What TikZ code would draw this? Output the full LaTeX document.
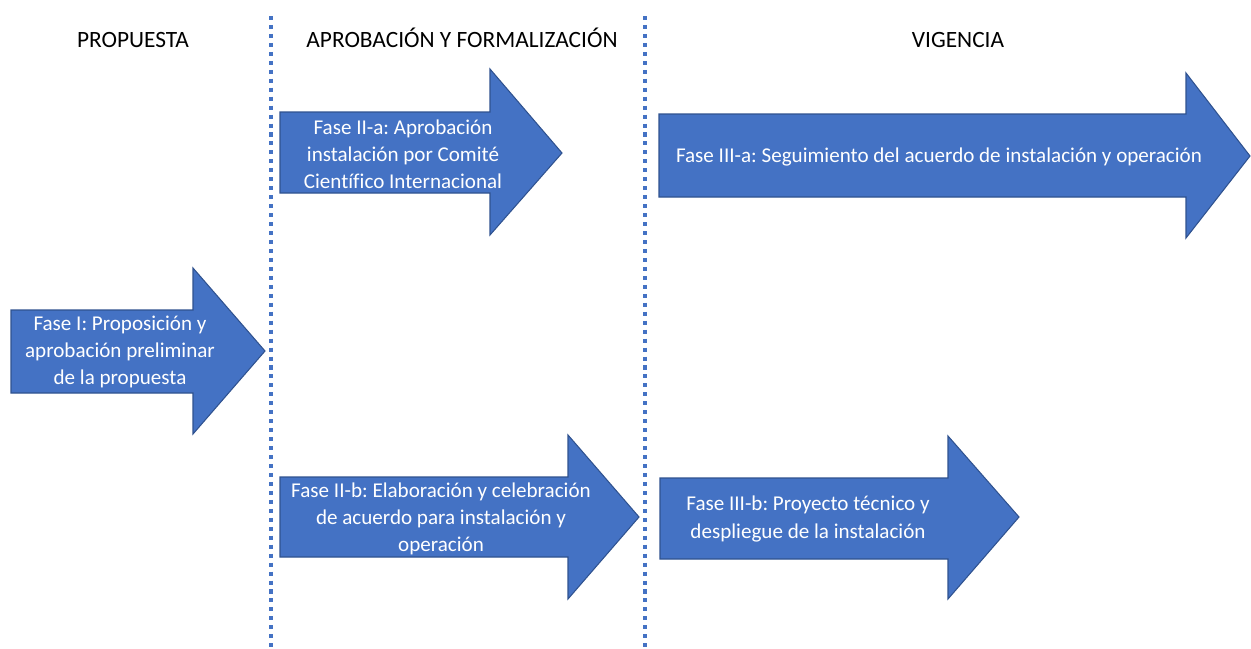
\documentclass[tikz,border=0pt]{standalone}
\usepackage{fontspec}
\setmainfont{Carlito}[Ligatures=NoCommon]
\frenchspacing
\definecolor{phaseblue}{HTML}{4472C4}
\definecolor{phaseedge}{HTML}{2F528F}
\tikzset{
    phase/.style={fill=phaseblue,draw=phaseedge,line width=0.6pt,line join=miter},
    phasetext/.style={text=white,align=center,font=\fontsize{12}{15.5}\selectfont,inner sep=0pt},
    stagetext/.style={font=\fontsize{13.3}{16}\selectfont,inner sep=0pt},
    divider/.style={draw=phaseblue,line width=2.3pt,dash pattern=on 2.3pt off 2.8pt}
}
\begin{document}
\begin{tikzpicture}[x=0.02cm,y=-0.02cm]
        \useasboundingbox (0,0) rectangle (1251,649);
        % The stage titles
        \node[stagetext] (propuesta) at (133,40) {PROPUESTA};
        \node[stagetext] (aprobacion) at (462,38) {APROBACIÓN Y FORMALIZACIÓN};
        \node[stagetext] (vigencia) at (958,40) {VIGENCIA};
        % The dividers
        \coordinate (div1 top) at (271,16);
        \coordinate (div1 bot) at (271,649);
        \coordinate (div2 top) at (645,16);
        \coordinate (div2 bot) at (645,649);
        \draw [divider] (div1 top) -- (div1 bot);
        \draw [divider] (div2 top) -- (div2 bot);
        % Fase I
        \draw [phase] (11,310) -- (193,310) -- (193,268) -- (265,351)
            -- (193,434) -- (193,393) -- (11,393) -- cycle;
        \node[phasetext] (fase1) at (120,352)
            {Fase I: Proposición y\\aprobación preliminar\\de la propuesta};
        % Fase II-a
        \draw [phase] (280,112) -- (490,112) -- (490,69) -- (562,153)
            -- (490,235) -- (490,193) -- (280,193) -- cycle;
        \node[phasetext] (fase2a) at (403,154)
            {Fase II-a: Aprobación\\instalación por Comité\\Científico Internacional};
        % Fase II-b
        \draw [phase] (280,477) -- (568,477) -- (568,435) -- (639,517)
            -- (568,599) -- (568,557) -- (280,557) -- cycle;
        \node[phasetext] (fase2b) at (441,519)
            {Fase II-b: Elaboración y celebración\\de acuerdo para instalación y\\operación};
        % Fase III-a
        \draw [phase] (659,114) -- (1186,114) -- (1186,73) -- (1250,156)
            -- (1186,238) -- (1186,197) -- (659,197) -- cycle;
        \node[phasetext] (fase3a) at (939,157)
            {Fase III-a: Seguimiento del acuerdo de instalación y operación};
        % Fase III-b
        \draw [phase] (660,478) -- (948,478) -- (948,436) -- (1019,517)
            -- (948,599) -- (948,559) -- (660,559) -- cycle;
        \node[phasetext] (fase3b) at (808,519)
            {Fase III-b: Proyecto técnico y\\despliegue de la instalación};
\end{tikzpicture}
\end{document}
